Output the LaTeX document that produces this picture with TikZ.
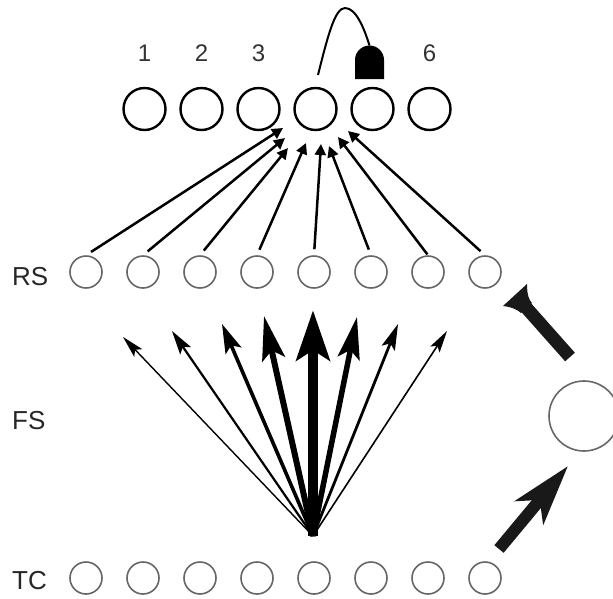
\documentclass[tikz,border=0pt]{standalone}
\usepackage{fontspec}
\setmainfont{Liberation Sans}
\usetikzlibrary{arrows.meta,calc}
\begin{document}
\begin{tikzpicture}[x=1pt,y=-1pt,
  topc/.style={circle,draw=black,line width=2.4pt,minimum size=42pt,inner sep=0pt},
  cell/.style={circle,draw=black!60,line width=1.6pt,minimum size=32pt,inner sep=0pt},
  lbl/.style={font=\fontsize{26}{30}\selectfont,text=black!85,inner sep=0pt},
  num/.style={font=\fontsize{24}{28}\selectfont,text=black!80,inner sep=0pt},
  inarrow/.style={line width=2.5pt,-{Triangle[length=11pt,width=11pt]}},
  fsarrow/.style n args={3}{line width=#1,-{Stealth[length=#2,width=#3,inset=0.2*#2]}},
]
\useasboundingbox (0,0) rectangle (613,598);

% top row
\foreach \i in {1,...,6} {
  \node[topc] (t\i) at ({144.5+57*(\i-1)},109) {};
}
\node[num] (n1) at (144.5,53) {1};
\node[num] (n2) at (201.5,53) {2};
\node[num] (n3) at (258.5,53) {3};
\node[num] (n6) at (429.5,53) {6};

% RS and TC rows
\foreach \i in {1,...,8} {
  \node[cell] (r\i) at ({86+57*(\i-1)},272) {};
  \node[cell] (c\i) at ({86+57*(\i-1)},578) {};
}
\node[lbl,anchor=west] (RS) at (12,277) {RS};
\node[lbl,anchor=west] (FS) at (12,421) {FS};
\node[lbl,anchor=west] (TC) at (12,581) {TC};

% big circle on the right
\node[circle,draw=black!60,line width=1.6pt,minimum size=70pt,inner sep=0pt] (big) at (584,416) {};

% RS -> top arrows
\coordinate (a1) at (283,128);
\coordinate (a2) at (285,138);
\coordinate (a3) at (288,148);
\coordinate (a4) at (306,143);
\coordinate (a5) at (321,144);
\coordinate (a6) at (329,146);
\coordinate (a7) at (338,137);
\coordinate (a8) at (348,131);
\foreach \i in {1,2,3,4,5,6,8} {
  \draw[inarrow,shorten <=6pt] (r\i.north) -- (a\i);
}
\draw[inarrow,shorten <=1pt] (r7.north) -- (a7);

% FS fan
\coordinate (src) at (313,536);
\coordinate (f1) at (123,337);
\coordinate (f2) at (172,331);
\coordinate (f3) at (222,324);
\coordinate (f4) at (264,316);
\coordinate (f5) at (313,310);
\coordinate (f6) at (357,317);
\coordinate (f7) at (398,324);
\coordinate (f8) at (447,331);
\draw[fsarrow={1.4pt}{22pt}{11pt}] (src) -- (f1);
\draw[fsarrow={1.6pt}{22pt}{11pt}] (src) -- (f8);
\draw[fsarrow={2.2pt}{24pt}{13pt}] (src) -- (f2);
\draw[fsarrow={2.8pt}{26pt}{14pt}] (src) -- (f7);
\draw[fsarrow={3.6pt}{29pt}{17pt}] (src) -- (f3);
\draw[fsarrow={5.5pt}{42pt}{22pt}] (src) -- (f6);
\draw[fsarrow={6pt}{44pt}{23pt}] (src) -- (f4);
\draw[fsarrow={10pt}{50pt}{33pt}] (src) -- (f5);

% inhibitory T from big circle toward RS row
\coordinate (tb) at (570,357);
\coordinate (te) at (515,295);
\draw[line width=13pt,black!90] (tb) -- ($(te)!0.12!(tb)$);
\fill[black!90] (503,306) -- (527,284) .. controls (527,295) and (529,300) .. (532,303)
  -- (521,313) .. controls (518,310) and (512,307) .. cycle;

% excitatory arrow from TC row to big circle
\coordinate (eb) at (499,549);
\coordinate (ee) at (568,466);
\draw[line width=12pt,black!90,-{Stealth[length=60pt,width=36pt,inset=16pt]}] (eb) -- (ee);

% axon curve with terminal
\coordinate (ax) at (318,75);
\draw[line width=2pt] (ax) .. controls (328,35) and (335,8) .. (345,8)
  .. controls (356,8) and (364,28) .. (369.5,45.5);
\fill (355,79) -- (355,60) arc[start angle=180,end angle=360,radius=14.5] -- (384,79) -- cycle;
\end{tikzpicture}
\end{document}
